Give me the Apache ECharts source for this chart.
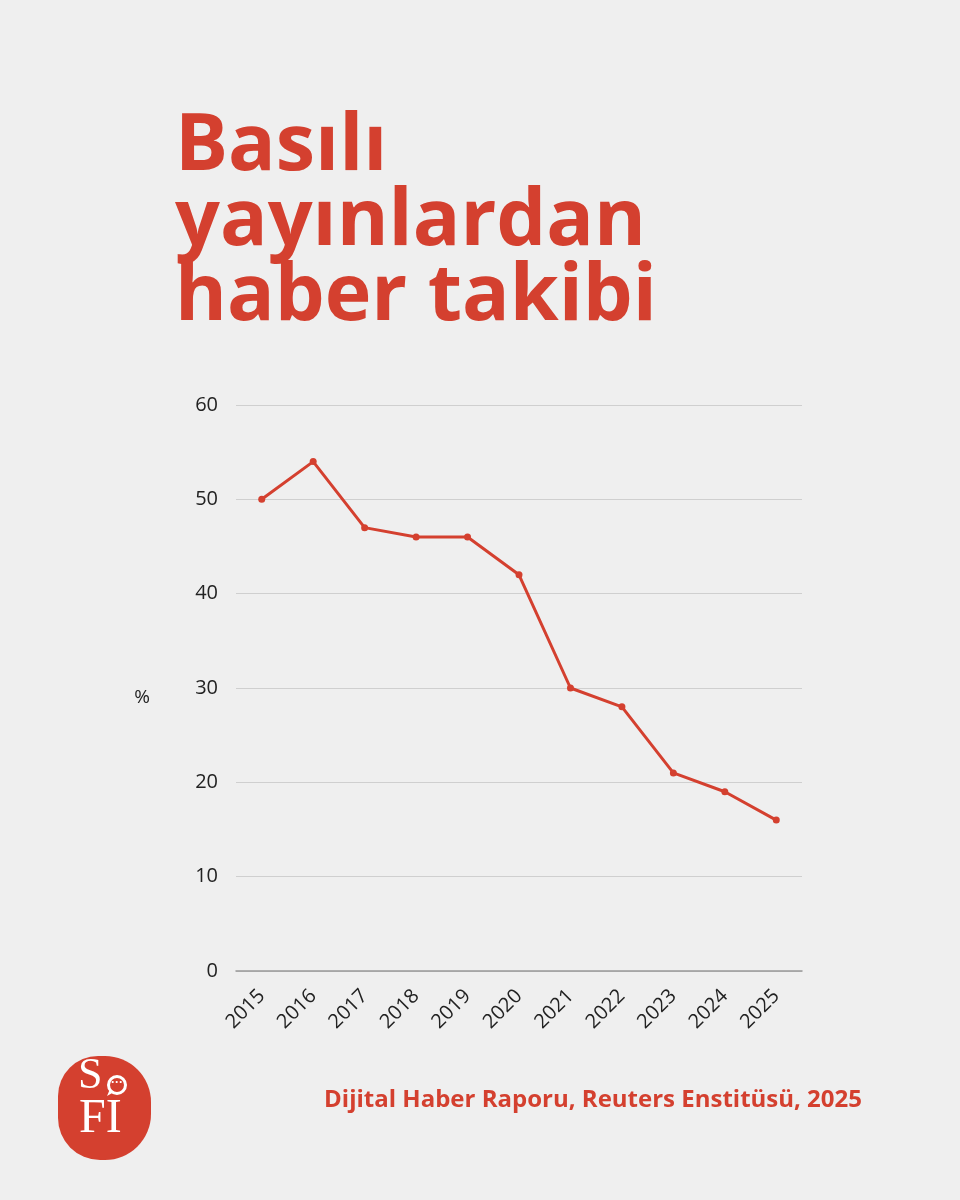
<!DOCTYPE html>
<html>
<head>
<meta charset="utf-8">
<script src="https://cdn.jsdelivr.net/npm/echarts@6/dist/echarts.min.js"></script>
<style>
  html, body { margin: 0; padding: 0; background: #efefef; }
  #chart { width: 960px; height: 1200px; }
</style>
</head>
<body>
<div id="chart"></div>
<script>
// veriler
var years = ['2015', '2016', '2017', '2018', '2019', '2020', '2021', '2022', '2023', '2024', '2025']
var printShare = [50, 54, 47, 46, 46, 42, 30, 28, 21, 19, 16]
var titleLines = ['Basılı', 'yayınlardan', 'haber takibi']
var sourceText = 'Dijital Haber Raporu, Reuters Enstitüsü, 2025'

var red = '#d4402f'
var font = '"Open Sans", "Noto Sans", sans-serif'
var serif = '"Liberation Serif", "DejaVu Serif", serif'

var option = {
  backgroundColor: '#efefef',
  animation: false,
  title: {
    text: titleLines.join('\n'),
    left: 170,
    top: 105,
    textStyle: {
      color: red,
      fontFamily: font,
      fontWeight: 'bold',
      fontSize: 79,
      lineHeight: 75
    }
  },
  grid: {
    left: 236,
    right: 158,
    top: 405,
    bottom: 229
  },
  xAxis: {
    type: 'category',
    data: years,
    boundaryGap: true,
    axisLine: { lineStyle: { color: '#999', width: 1.5 } },
    axisTick: { show: false },
    axisLabel: {
      rotate: 45,
      color: '#222',
      fontFamily: font,
      fontSize: 20,
      margin: 22
    }
  },
  yAxis: {
    type: 'value',
    min: 0,
    max: 60,
    interval: 10,
    name: '%',
    nameLocation: 'middle',
    nameRotate: 0,
    nameGap: 86,
    nameTextStyle: { color: '#222', fontFamily: font, fontSize: 19, verticalAlign: 'top' },
    axisLine: { show: false },
    axisTick: { show: false },
    axisLabel: { color: '#222', fontFamily: font, fontSize: 20, margin: 18 },
    splitLine: { lineStyle: { color: '#cfcfcf', width: 1.2 } }
  },
  series: [{
    type: 'line',
    data: printShare,
    symbol: 'circle',
    symbolSize: 7,
    lineStyle: { color: red, width: 3 },
    itemStyle: { color: red }
  }],
  graphic: [
    // SoFI logosu
    {
      type: 'rect',
      shape: { x: 58, y: 1056, width: 93, height: 104, r: [40, 46, 46, 42] },
      style: { fill: red }
    },
    {
      type: 'text',
      left: 78,
      top: 1054,
      style: { text: 'S', fill: '#fff', font: '44px ' + serif }
    },
    {
      type: 'circle',
      shape: { cx: 117, cy: 1085, r: 8.5 },
      style: { fill: red, stroke: '#fff', lineWidth: 3 }
    },
    {
      type: 'polygon',
      shape: { points: [[110, 1089], [107, 1096], [114, 1092]] },
      style: { fill: '#fff' }
    },
    {
      type: 'text',
      x: 117,
      y: 1083,
      style: { text: '···', fill: '#fff', font: 'bold 12px sans-serif', align: 'center', verticalAlign: 'middle' }
    },
    {
      type: 'text',
      left: 79,
      top: 1095,
      style: { text: 'FI', fill: '#fff', font: '48px ' + serif }
    },
    {
      type: 'text',
      right: 98,
      top: 1088,
      style: {
        text: sourceText,
        fill: red,
        font: 'bold 24px "Open Sans", "Noto Sans", sans-serif'
      }
    }
  ]
}

var myChart = echarts.init(document.getElementById('chart'))
myChart.setOption(option)
</script>
</body>
</html>
